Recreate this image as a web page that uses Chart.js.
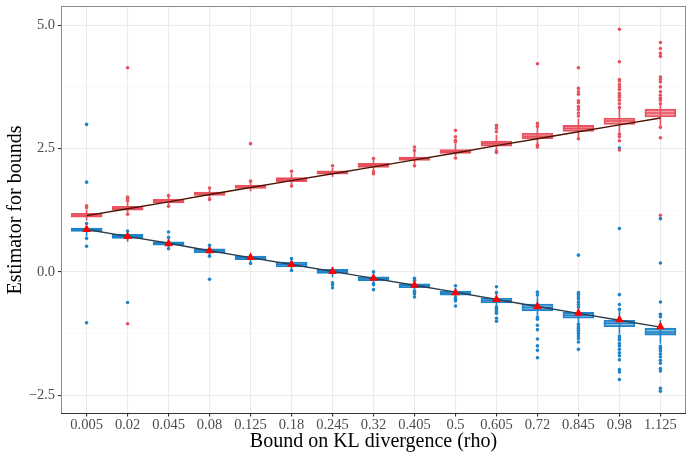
<!DOCTYPE html>
<html>
<head>
<meta charset="utf-8">
<script src="https://cdn.jsdelivr.net/npm/chart.js@4.4.1/dist/chart.umd.min.js"></script>
<style>
html, body { margin: 0; padding: 0; background: #fff; }
</style>
</head>
<body>
<canvas id="chart" width="692" height="461"></canvas>
<script>
// rho values on the x axis
var rhoLabels = ['0.005', '0.02', '0.045', '0.08', '0.125', '0.18', '0.245', '0.32',
                 '0.405', '0.5', '0.605', '0.72', '0.845', '0.98', '1.125'];

// upper bound estimator (red) box stats
var upperQ1     = [1.11, 1.25, 1.40, 1.55, 1.69, 1.83, 1.98, 2.12, 2.26, 2.40, 2.55, 2.70, 2.85, 2.99, 3.14];
var upperMedian = [1.15, 1.29, 1.44, 1.58, 1.72, 1.87, 2.01, 2.16, 2.30, 2.44, 2.60, 2.75, 2.91, 3.06, 3.22];
var upperQ3     = [1.19, 1.33, 1.47, 1.62, 1.76, 1.91, 2.05, 2.20, 2.33, 2.48, 2.65, 2.81, 2.97, 3.12, 3.30];
var upperLow    = [1.05, 1.19, 1.36, 1.50, 1.64, 1.77, 1.93, 2.05, 2.18, 2.35, 2.47, 2.59, 2.72, 2.82, 2.95];
var upperHigh   = [1.25, 1.40, 1.52, 1.66, 1.80, 1.99, 2.10, 2.26, 2.43, 2.60, 2.77, 2.93, 3.10, 3.30, 3.40];
var upperOutliers = [
  [1.30, 1.34],
  [1.44, 1.49, 1.52, 1.17, 4.14, -1.05],
  [1.55, 1.33],
  [1.70, 1.47],
  [1.84, 2.60],
  [2.04, 1.74],
  [2.15],
  [2.30, 1.99, 2.03],
  [2.53, 2.46, 2.15],
  [2.64, 2.67, 2.74, 2.87, 2.31],
  [2.84, 2.91, 2.97, 2.42, 2.45],
  [2.95, 3.01, 4.22, 2.53, 2.57],
  [3.16, 3.22, 3.29, 3.35, 3.43, 3.47, 3.60, 3.65, 3.72, 4.14, 2.70],
  [3.33, 3.41, 3.48, 3.54, 3.58, 3.62, 3.70, 3.75, 3.80, 3.87, 3.90, 4.26, 4.92, 2.79, 2.74, 2.66, 2.47],
  [3.41, 3.48, 3.52, 3.58, 3.65, 3.75, 3.85, 3.90, 3.95, 4.37, 4.43, 4.53, 4.65, 2.93, 2.72, 1.15]
];

// lower bound estimator (blue) box stats
var lowerQ1     = [0.82, 0.68, 0.54, 0.39, 0.25, 0.10, -0.03, -0.18, -0.32, -0.47, -0.63, -0.79, -0.94, -1.11, -1.28];
var lowerMedian = [0.86, 0.72, 0.58, 0.43, 0.29, 0.15, 0.01, -0.14, -0.28, -0.43, -0.58, -0.72, -0.88, -1.04, -1.22];
var lowerQ3     = [0.89, 0.76, 0.61, 0.47, 0.32, 0.20, 0.05, -0.10, -0.24, -0.39, -0.53, -0.65, -0.82, -0.98, -1.14];
var lowerLow    = [0.73, 0.62, 0.49, 0.35, 0.20, 0.05, -0.10, -0.22, -0.37, -0.52, -0.69, -0.88, -1.03, -1.25, -1.45];
var lowerHigh   = [0.93, 0.80, 0.66, 0.52, 0.35, 0.25, 0.09, -0.04, -0.19, -0.33, -0.44, -0.52, -0.70, -0.80, -0.98];
var lowerOutliers = [
  [0.98, 0.68, 0.52, 1.82, 2.99, -1.03],
  [0.83, -0.62],
  [0.70, 0.81, 0.47],
  [0.54, 0.32, -0.15],
  [0.17],
  [0.27, 0.03],
  [-0.22, -0.26, -0.32],
  [0.00, -0.24, -0.26, -0.36],
  [-0.13, -0.17, -0.39, -0.43, -0.45, -0.51],
  [-0.28, -0.52, -0.56, -0.59, -0.69],
  [-0.30, -0.42, -0.71, -0.74, -0.78, -0.81, -0.84, -0.94, -1.00],
  [-0.41, -0.47, -0.92, -0.96, -1.08, -1.17, -1.36, -1.50, -1.59, -1.74],
  [0.34, -0.42, -0.46, -0.51, -0.55, -0.61, -0.66, -0.71, -1.06, -1.11, -1.14, -1.18, -1.21, -1.25, -1.30, -1.35, -1.42, -1.57],
  [2.51, 0.88, -0.46, -0.66, -0.76, -1.30, -1.34, -1.38, -1.45, -1.50, -1.57, -1.64, -1.70, -1.78, -1.98, -2.03, -2.18],
  [1.08, 0.18, -0.61, -0.86, -0.91, -1.51, -1.55, -1.60, -1.66, -1.72, -1.79, -1.85, -1.96, -2.01, -2.36, -2.42]
];

// true bounds and mean of lower estimator
var trueUpper = [1.14, 1.28, 1.42, 1.57, 1.71, 1.85, 1.99, 2.13, 2.27, 2.41, 2.56, 2.70, 2.84, 2.98, 3.12];
var trueLower = [0.86, 0.72, 0.58, 0.43, 0.29, 0.15, 0.01, -0.13, -0.27, -0.41, -0.56, -0.70, -0.84, -0.98, -1.12];
var lowerMean = [0.86, 0.72, 0.57, 0.43, 0.29, 0.15, 0.01, -0.13, -0.27, -0.42, -0.56, -0.70, -0.84, -0.97, -1.11];

var yTicks = [-2.5, -1.25, 0, 1.25, 2.5, 3.75, 5];
var yMajor = [-2.5, 0, 2.5, 5];

var RED = '#e8525f';
var BLUE = '#1f84c8';
var FONT = 'Liberation Serif';

function pairs(a, b) {
  return a.map((v, i) => ({ x: i, y: [v, b[i]] }));
}
function points(vals) {
  return vals.map((v, i) => ({ x: i, y: v }));
}
function flatOutliers(list) {
  var out = [];
  list.forEach((arr, i) => arr.forEach(v => out.push({ x: i, y: v })));
  return out;
}

function whiskerSet(lo, hi, colour) {
  return { type: 'bar', data: pairs(lo, hi), backgroundColor: colour, borderWidth: 0,
           barThickness: 1, grouped: false, order: 60 };
}
function boxSet(q1, q3, fill, colour) {
  return { type: 'bar', data: pairs(q1, q3), backgroundColor: fill, borderColor: colour,
           borderWidth: 1.2, borderSkipped: false, barThickness: 31, grouped: false, order: 50 };
}
function medianSet(med, colour) {
  return { type: 'line', data: points(med), showLine: false, pointStyle: 'line',
           pointRadius: 15.5, pointBorderWidth: 1.5, pointBorderColor: colour, order: 45 };
}
function outlierSet(list, colour) {
  return { type: 'line', data: flatOutliers(list), showLine: false, pointRadius: 1.8,
           pointBorderWidth: 0, pointBackgroundColor: colour, order: 40 };
}

// fixed axis sizes so the panel sits where the reference has it
function noPad(s) {
  s.paddingLeft = 0; s.paddingRight = 0; s.paddingTop = 0; s.paddingBottom = 0;
}

var panelBorder = {
  id: 'panelBorder',
  afterDraw(chart) {
    var a = chart.chartArea, c = chart.ctx;
    c.save();
    c.strokeStyle = '#8c8c8c';
    c.lineWidth = 1;
    c.strokeRect(a.left - 0.5, a.top - 0.5, a.right - a.left + 1, a.bottom - a.top + 1);
    c.strokeStyle = '#333';
    c.beginPath();
    c.moveTo(a.left - 1, a.bottom + 0.5);
    c.lineTo(a.right + 1, a.bottom + 0.5);
    c.stroke();
    c.restore();
  }
};

var ctx = document.getElementById('chart').getContext('2d');

var chart = new Chart(ctx, {
  type: 'bar',
  data: {
    datasets: [
      whiskerSet(upperLow, upperHigh, RED),
      whiskerSet(lowerLow, lowerHigh, BLUE),
      boxSet(upperQ1, upperQ3, 'rgba(232,82,95,0.55)', RED),
      boxSet(lowerQ1, lowerQ3, 'rgba(31,132,200,0.55)', BLUE),
      medianSet(upperMedian, RED),
      medianSet(lowerMedian, BLUE),
      outlierSet(upperOutliers, RED),
      outlierSet(lowerOutliers, BLUE),
      { type: 'line', data: points(trueUpper), borderColor: '#4a1400', borderWidth: 1.4,
        pointRadius: 0, fill: false, order: 20 },
      { type: 'line', data: points(trueLower), borderColor: '#2b3d4f', borderWidth: 1.4,
        pointRadius: 0, fill: false, order: 20 },
      { type: 'line', data: points(lowerMean), showLine: false, pointStyle: 'triangle',
        pointRadius: 5, pointBorderWidth: 0, pointBackgroundColor: '#ff0000', order: 10 }
    ]
  },
  options: {
    responsive: false,
    animation: false,
    layout: { autoPadding: false, padding: { top: 7, right: 7, left: 0, bottom: 0 } },
    plugins: { legend: { display: false }, tooltip: { enabled: false } },
    scales: {
      x: {
        type: 'linear',
        min: -0.6,
        max: 14.6,
        offset: false,
        afterBuildTicks: function (s) { s.ticks = rhoLabels.map((l, i) => ({ value: i })); },
        afterFit: function (s) { s.height = 48; noPad(s); },
        ticks: {
          autoSkip: false, maxRotation: 0, padding: 0, color: '#4d4d4d',
          font: { family: FONT, size: 14.5 },
          callback: function (v, i) { return rhoLabels[i]; }
        },
        grid: { offset: false, color: '#ebebeb', lineWidth: 1.1, tickColor: '#333', tickLength: 3.5 },
        border: { display: false },
        title: { display: true, text: 'Bound on KL divergence (rho)', color: '#000',
                 font: { family: FONT, size: 20 }, padding: { top: 0, bottom: 7 } }
      },
      y: {
        min: -2.86,
        max: 5.37,
        beginAtZero: false,
        afterBuildTicks: function (s) { s.ticks = yTicks.map(v => ({ value: v })); },
        afterFit: function (s) { s.width = 62; noPad(s); },
        ticks: {
          padding: 3, color: '#4d4d4d', font: { family: FONT, size: 14.5 },
          callback: function (v) { return yMajor.includes(v) ? v.toFixed(1).replace('-', '\u2212') : ''; }
        },
        grid: {
          color: function (c) { return yMajor.includes(c.tick.value) ? '#ebebeb' : '#f4f4f4'; },
          lineWidth: function (c) { return yMajor.includes(c.tick.value) ? 1.1 : 0.6; },
          tickColor: function (c) { return yMajor.includes(c.tick.value) ? '#333' : 'rgba(0,0,0,0)'; },
          tickLength: 4
        },
        border: { display: false },
        title: { display: true, text: 'Estimator for bounds', color: '#000',
                 font: { family: FONT, size: 20 }, padding: { top: 4, bottom: 4 } }
      }
    }
  },
  plugins: [panelBorder]
});
</script>
</body>
</html>
